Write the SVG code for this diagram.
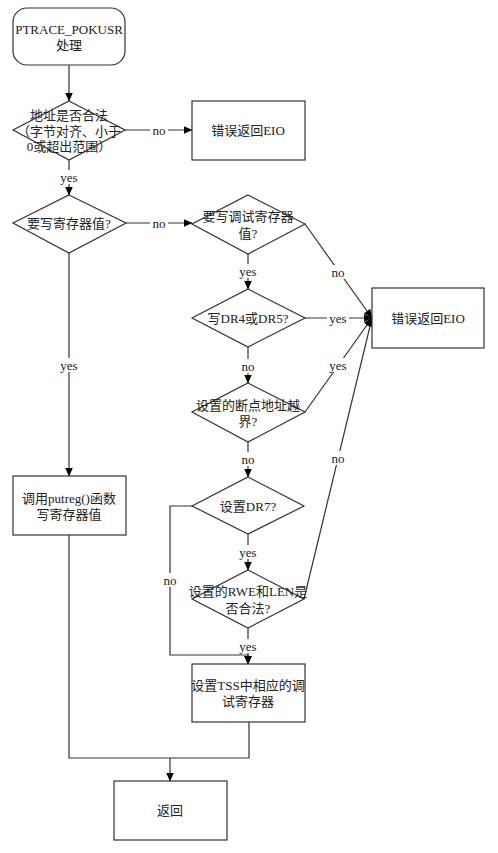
<svg xmlns="http://www.w3.org/2000/svg" width="498" height="853" viewBox="0 0 498 853">
<defs>
<marker id="arr" markerWidth="9" markerHeight="8" refX="8.5" refY="4" orient="auto" markerUnits="userSpaceOnUse">
<path d="M0,0 L9,4 L0,8 Z" fill="#000"/>
</marker>
<style>
.s{fill:#fff;stroke:#333;stroke-width:1.2}
.l{fill:none;stroke:#333;stroke-width:1.2}
.a{fill:none;stroke:#333;stroke-width:1.2;marker-end:url(#arr)}
text{font-family:"Liberation Serif","Noto Sans CJK SC",serif;font-size:13px;fill:#222;text-anchor:middle;dominant-baseline:central}
.bg{fill:#fff}
</style>
</defs>
<rect width="498" height="853" fill="#fff"/>
<g id="connectors">
<line class="a" x1="69" y1="65" x2="69" y2="101"/>
<line class="a" x1="125" y1="130" x2="192" y2="130"/>
<line class="a" x1="69" y1="160" x2="69" y2="195"/>
<line class="a" x1="126" y1="223" x2="192" y2="223"/>
<line class="a" x1="69" y1="253" x2="69" y2="476"/>
<line class="a" x1="248" y1="254" x2="248" y2="289"/>
<line class="a" x1="305" y1="224" x2="372" y2="318"/>
<line class="a" x1="305" y1="318" x2="372" y2="318"/>
<line class="a" x1="305" y1="412" x2="372" y2="318"/>
<line class="a" x1="304" y1="599" x2="372" y2="318"/>
<line class="a" x1="248" y1="347" x2="248" y2="383"/>
<line class="a" x1="248" y1="442" x2="248" y2="477"/>
<line class="a" x1="248" y1="534" x2="248" y2="570"/>
<line class="a" x1="248" y1="628" x2="248" y2="664"/>
<polyline class="a" points="192,506 170,506 170,655 248,655 248,664"/>
<polyline class="l" points="69,535 69,758 249,758 249,722"/>
<line class="a" x1="170" y1="758" x2="170" y2="781"/>
<g id="labels">
<rect class="bg" x="150" y="123" width="18" height="14"/><text x="159" y="130">no</text>
<rect class="bg" x="58" y="170" width="22" height="14"/><text x="69" y="177">yes</text>
<rect class="bg" x="150" y="216" width="18" height="14"/><text x="159" y="223">no</text>
<rect class="bg" x="237" y="264" width="22" height="14"/><text x="248" y="271">yes</text>
<rect class="bg" x="329" y="265" width="18" height="14"/><text x="338" y="272">no</text>
<rect class="bg" x="327" y="311" width="22" height="14"/><text x="338" y="318">yes</text>
<rect class="bg" x="58" y="358" width="22" height="14"/><text x="69" y="365">yes</text>
<rect class="bg" x="239" y="359" width="18" height="14"/><text x="248" y="366">no</text>
<rect class="bg" x="327" y="358" width="22" height="14"/><text x="338" y="365">yes</text>
<rect class="bg" x="239" y="452" width="18" height="14"/><text x="248" y="459">no</text>
<rect class="bg" x="329" y="451" width="18" height="14"/><text x="338" y="458">no</text>
<rect class="bg" x="237" y="545" width="22" height="14"/><text x="248" y="552">yes</text>
<rect class="bg" x="161" y="573" width="18" height="14"/><text x="170" y="580">no</text>
<rect class="bg" x="237" y="639" width="22" height="14"/><text x="248" y="646">yes</text>
</g>
</g>
<g id="start">
<rect class="s" x="13" y="8" width="112" height="57" rx="14"/>
<text x="69" y="29">PTRACE_POKUSR</text>
<text x="69" y="45">处理</text>
</g>
<g id="d1">
<polygon class="s" points="69,101 125,130 69,160 13,130"/>
<text x="69" y="115">地址是否合法</text>
<text x="69" y="131">（字节对齐、小于</text>
<text x="69" y="146">0或超出范围）</text>
</g>
<g id="eio1">
<rect class="s" x="192" y="101" width="113" height="59"/>
<text x="248" y="130">错误返回EIO</text>
</g>
<g id="d2">
<polygon class="s" points="69,195 126,223 69,253 13,223"/>
<text x="69" y="223">要写寄存器值?</text>
</g>
<g id="d3">
<polygon class="s" points="248,195 305,224 248,254 192,224"/>
<text x="248" y="216">要写调试寄存器</text>
<text x="248" y="233">值?</text>
</g>
<g id="d4">
<polygon class="s" points="248,289 305,318 248,347 192,318"/>
<text x="248" y="318">写DR4或DR5?</text>
</g>
<g id="eio2">
<rect class="s" x="372" y="288" width="112" height="60"/>
<text x="428" y="318">错误返回EIO</text>
</g>
<g id="d5">
<polygon class="s" points="248,383 305,412 248,442 192,412"/>
<text x="248" y="405">设置的断点地址越</text>
<text x="248" y="421">界?</text>
</g>
<g id="d6">
<polygon class="s" points="248,477 304,506 248,534 192,506"/>
<text x="248" y="506">设置DR7?</text>
</g>
<g id="d7">
<polygon class="s" points="248,570 304,599 248,628 192,599"/>
<text x="248" y="591">设置的RWE和LEN是</text>
<text x="248" y="608">否合法?</text>
</g>
<g id="putreg">
<rect class="s" x="13" y="476" width="113" height="59"/>
<text x="69" y="498">调用putreg()函数</text>
<text x="69" y="514">写寄存器值</text>
</g>
<g id="tss">
<rect class="s" x="192" y="664" width="113" height="58"/>
<text x="248" y="685">设置TSS中相应的调</text>
<text x="248" y="701">试寄存器</text>
</g>
<g id="ret">
<rect class="s" x="114" y="781" width="113" height="59"/>
<text x="170" y="810">返回</text>
</g>
</svg>
